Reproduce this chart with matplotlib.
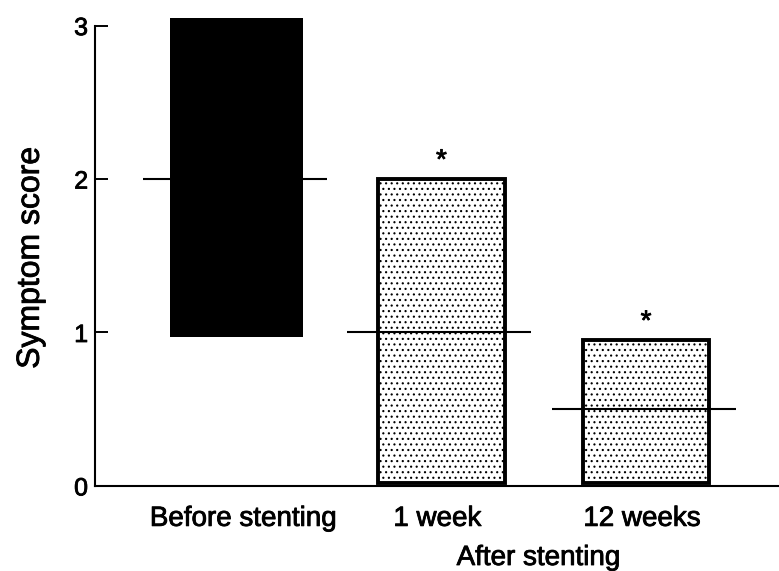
import matplotlib.pyplot as plt
import matplotlib.patheffects as pe

# symptom score ranges (min-max) and medians
groups = ["Before stenting", "1 week", "12 weeks"]
lows = [0.97, 0.02, 0.02]
highs = [3.05, 2.0, 0.95]
medians = [2.0, 1.0, 0.5]
significant = [False, True, True]

plt.rcParams["font.family"] = ["Liberation Sans", "DejaVu Sans"]
plt.rcParams["hatch.linewidth"] = 0.8

# slightly heavier strokes for the printed-look lettering
heavy = [pe.withStroke(linewidth=0.6, foreground="black")]

fig = plt.figure(figsize=(7.79, 5.71), dpi=100)
ax = fig.add_axes([0.122, 0.149, 0.878, 0.833])

x = list(range(len(groups)))
for i in x:
    h = highs[i] - lows[i]
    if i == 0:
        ax.bar(i, h, bottom=lows[i], width=0.65, color="black", edgecolor="black", linewidth=0)
    else:
        ax.bar(i, h, bottom=lows[i], width=0.62, facecolor="white",
               edgecolor="black", linewidth=2.8, hatch="...")
    ax.hlines(medians[i], i - 0.46, i + 0.44, color="black", linewidth=1.5, zorder=3)
    if significant[i]:
        ax.text(i, highs[i] + 0.03, "*", ha="center", va="bottom", fontsize=20,
                path_effects=heavy)

ax.set_xlim(-0.693, 2.65)
ax.set_ylim(0, 3.1)
ax.set_yticks([0, 1, 2, 3])
ax.set_yticklabels(["0", "1", "2", "3"], fontsize=18)
for lbl in ax.get_yticklabels():
    lbl.set_path_effects(heavy)
ax.tick_params(axis="y", direction="in", length=9.5, width=1.4, pad=5)
ax.set_xticks([])
ax.spines["top"].set_visible(False)
ax.spines["right"].set_visible(False)
ax.spines["left"].set_bounds(0, 3)
ax.spines["left"].set_linewidth(1.5)
ax.spines["bottom"].set_linewidth(1.5)

# category names under the axis, with the shared "After stenting" caption
nudge = [0.03, -0.02, -0.02]
for i, name in zip(x, groups):
    ax.text(i + nudge[i], -0.13, name, ha="center", va="top", fontsize=20,
            clip_on=False, path_effects=heavy)
ax.text(1.473, -0.385, "After stenting", ha="center", va="top", fontsize=20,
        clip_on=False, path_effects=heavy)

ax.set_ylabel("Symptom score", fontsize=23, path_effects=heavy)
ax.yaxis.set_label_coords(-0.072, 0.48)

fig.savefig("out.png", dpi=100)
